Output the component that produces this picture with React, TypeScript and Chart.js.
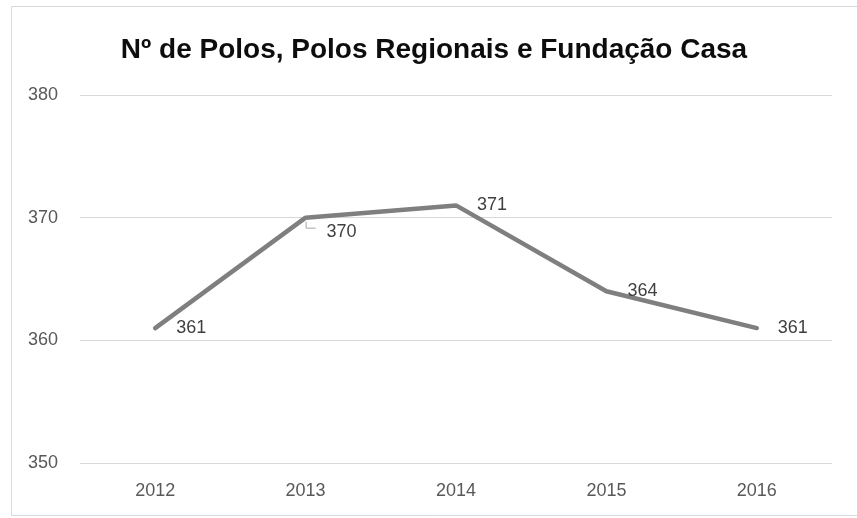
import React, { useEffect, useRef } from "react";
import { Chart, registerables } from "chart.js";

Chart.register(...registerables);

const chartTitle = "Nº de Polos, Polos Regionais e Fundação Casa";
const years = ["2012", "2013", "2014", "2015", "2016"];
const polos = [361, 370, 371, 364, 361];
const yMin = 350;
const yMax = 380;
const yStep = 10;

const FONT = "'Liberation Sans', Arial, sans-serif";

export default function App() {
  const ref = useRef<HTMLCanvasElement>(null);

  useEffect(() => {
    document.body.style.margin = "0";
    const canvas = ref.current;
    if (!canvas) return;

    const framePlugin = {
      id: "frame",
      beforeDraw(chart: any) {
        const c = chart.ctx;
        c.save();
        c.fillStyle = "#ffffff";
        c.fillRect(0, 0, chart.width, chart.height);
        c.strokeStyle = "#d9d9d9";
        c.lineWidth = 1;
        c.beginPath();
        c.moveTo(chart.width, 6.5);
        c.lineTo(11.5, 6.5);
        c.lineTo(11.5, 515.5);
        c.lineTo(chart.width, 515.5);
        c.stroke();
        // title, centred on the frame
        c.font = `bold 28px ${FONT}`;
        c.fillStyle = "#0d0d0d";
        c.textAlign = "center";
        c.textBaseline = "middle";
        c.fillText(chartTitle, (11 + chart.width) / 2, 50);
        c.restore();
      },
    };

    const labelPlugin = {
      id: "dataLabels",
      afterDatasetsDraw(chart: any) {
        const c = chart.ctx;
        const meta = chart.getDatasetMeta(0);
        const ds = chart.data.datasets[0];
        c.save();
        c.font = `18px ${FONT}`;
        c.fillStyle = "#404040";
        c.textAlign = "left";
        c.textBaseline = "middle";
        meta.data.forEach((pt: any, i: number) => {
          const dx = 21;
          let dy = 0;
          if (i === 1) {
            dy = 14;
            c.strokeStyle = "#a6a6a6";
            c.lineWidth = 1;
            c.beginPath();
            c.moveTo(pt.x + 0.5, pt.y + 4);
            c.lineTo(pt.x + 0.5, pt.y + 10.5);
            c.lineTo(pt.x + 10, pt.y + 10.5);
            c.stroke();
          }
          c.fillText(String(ds.data[i]), pt.x + dx, pt.y + dy);
        });
        c.restore();
      },
    };

    const chart = new Chart(canvas, {
      type: "line",
      data: {
        labels: years,
        datasets: [
          {
            data: polos,
            borderColor: "#7f7f7f",
            borderWidth: 4.5,
            pointRadius: 0,
            tension: 0,
            borderCapStyle: "round",
            borderJoinStyle: "round",
          },
        ],
      },
      options: {
        animation: false,
        responsive: true,
        maintainAspectRatio: false,
        layout: { padding: { left: 0, right: 25, top: 95, bottom: 0 } },
        plugins: {
          legend: { display: false },
          tooltip: { enabled: false },
          title: { display: false },
        },
        scales: {
          x: {
            offset: true,
            grid: { display: false, drawTicks: false },
            border: { display: false },
            ticks: {
              color: "#595959",
              font: { family: FONT, size: 18 },
              padding: 17,
            },
            afterFit(scale: any) {
              scale.height = 55;
            },
          },
          y: {
            min: yMin,
            max: yMax,
            ticks: {
              stepSize: yStep,
              color: "#595959",
              font: { family: FONT, size: 18 },
              padding: 22,
            },
            grid: { color: "#d9d9d9", lineWidth: 1, drawTicks: false },
            border: { display: false },
            afterFit(scale: any) {
              scale.width = 80;
            },
          },
        },
      },
      plugins: [framePlugin, labelPlugin],
    });

    return () => chart.destroy();
  }, []);

  return (
    <div style={{ position: "fixed", left: 0, top: 0, width: 857, height: 518 }}>
      <canvas ref={ref} />
    </div>
  );
}
